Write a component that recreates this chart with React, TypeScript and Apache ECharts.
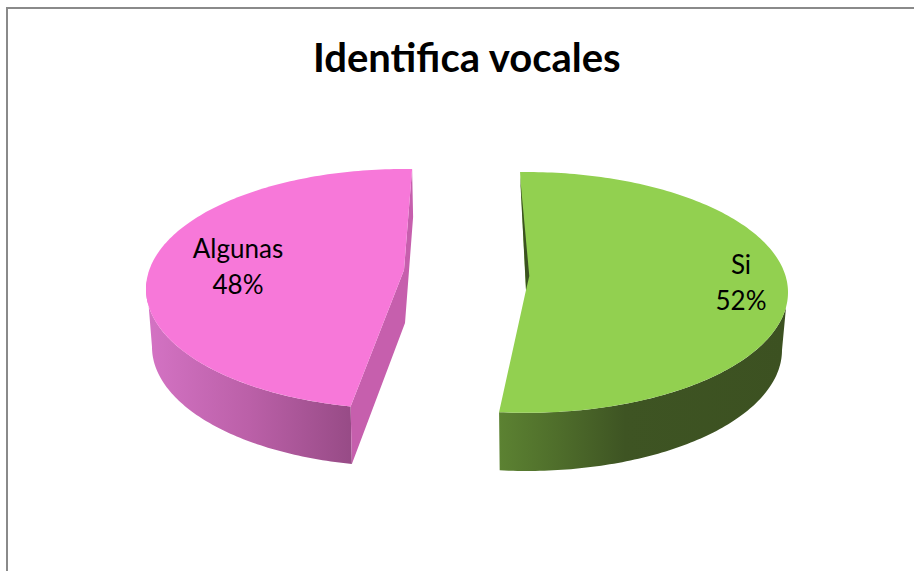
import React, { useEffect, useRef } from "react";
import * as echarts from "echarts";

const TITLE = "Identifica vocales";
const categories = ["Si", "Algunas"];
const shares = [52, 48];

const FONT = "Lato, Carlito, 'Open Sans', sans-serif";
const rad = (d: number) => (d * Math.PI) / 180;
type Ell = { cx: number; cy: number; rx: number; ry: number };
const pt = (e: Ell, deg: number): number[] => [e.cx + e.rx * Math.sin(rad(deg)), e.cy - e.ry * Math.cos(rad(deg))];
const arc = (e: Ell, a: number, b: number): number[][] => {
  const n = Math.max(8, Math.ceil(Math.abs(b - a)));
  const out: number[][] = [];
  for (let i = 0; i <= n; i++) out.push(pt(e, a + ((b - a) * i) / n));
  return out;
};
const hGrad = (stops: [number, string][]) =>
  new echarts.graphic.LinearGradient(0, 0, 1, 0, stops.map(([offset, color]) => ({ offset, color }))) as any;

const geometry = [
  {
    top: { cx: 526, cy: 292.4, rx: 262, ry: 120.4 },
    bottom: { cx: 526, cy: 350, rx: 256, ry: 121 },
    apex: [526, 290],
    start: -1.3,
    dir: 1,
    perspective: 1,
    sideTop: 97,
    sideBottom: 90,
    fill: "#92d050",
    sideStops: [[0, "#5c8232"], [0.2, "#4f6e2b"], [0.44, "#3e5423"], [1, "#3c5121"]] as [number, string][],
    labelX: 741,
    labelY: [264, 300],
  },
  {
    top: { cx: 404, cy: 289, rx: 258, ry: 120 },
    bottom: { cx: 404, cy: 347, rx: 252, ry: 119.6 },
    apex: [404, 270],
    start: 1.8,
    dir: -1,
    perspective: 0.983,
    sideTop: -86,
    sideBottom: -90,
    fill: "#f778d9",
    sideStops: [[0, "#d473c4"], [0.5, "#bb60a8"], [1, "#974b86"]] as [number, string][],
    labelX: 238,
    labelY: [248, 284],
  },
];

export default function App() {
  const ref = useRef<HTMLDivElement>(null);
  useEffect(() => {
    document.body.style.margin = "0";
    const chart = echarts.init(ref.current!, null, { renderer: "svg" });
    chart.setOption({
      animation: false,
      backgroundColor: "#ffffff",
      title: {
        text: TITLE,
        left: 308,
        top: 32,
        textStyle: { fontFamily: FONT, fontSize: 40, fontWeight: "bold", color: "#000000" },
      },
      graphic: [
        {
          type: "polyline",
          silent: true,
          shape: { points: [[7, 571], [7, 8], [914, 8]] },
          style: { stroke: "#8a8a8a", lineWidth: 2, fill: "none" },
        },
      ],
      series: [
        {
          type: "custom",
          coordinateSystem: "none",
          data: shares.map((v, i) => ({ name: categories[i], value: [v] })),
          renderItem: (params: any, api: any) => {
            const i = params.dataIndex;
            const g = geometry[i];
            const share = api.value(0) as number;
            const sweep = (share / 100) * 360 * g.perspective;
            const end = g.start + g.dir * sweep;
            const arcTop = arc(g.top, g.start, end);
            const startPt = pt(g.top, g.start);
            const endPt = pt(g.top, end);
            const sideTopArc = arc(g.top, g.sideTop, end);
            const sideBottomArc = arc(g.bottom, g.sideBottom, end).reverse();
            const children: any[] = [];
            children.push({
              type: "polygon",
              shape: { points: [...sideTopArc, ...sideBottomArc] },
              style: { fill: hGrad(g.sideStops) },
            });
            if (g.dir < 0) {
              const endBottom = pt(g.bottom, end);
              children.push({
                type: "polygon",
                shape: {
                  points: [startPt, [startPt[0] + 1, startPt[1] + 48], [g.apex[0] + 1, g.apex[1] + 53], endBottom, endPt, g.apex],
                },
                style: { fill: "#c65fad" },
              });
            }
            children.push({
              type: "polygon",
              shape: { points: [g.apex, ...arcTop] },
              style: { fill: g.fill },
            });
            if (g.dir > 0) {
              children.push({
                type: "polygon",
                shape: { points: [[startPt[0], startPt[1] + 4], g.apex, [g.apex[0] + 3.3, g.apex[1] - 14]] },
                style: { fill: "#3b5220" },
              });
            }
            const lines = [categories[i], `${share}%`];
            lines.forEach((t, k) =>
              children.push({
                type: "text",
                style: {
                  text: t,
                  x: g.labelX,
                  y: g.labelY[k],
                  textAlign: "center",
                  textVerticalAlign: "middle",
                  fontFamily: FONT,
                  fontSize: 26,
                  fill: "#000000",
                },
              })
            );
            return { type: "group", children };
          },
        },
      ],
    });
    return () => chart.dispose();
  }, []);
  return <div ref={ref} style={{ position: "absolute", left: 0, top: 0, width: 914, height: 571 }} />;
}
